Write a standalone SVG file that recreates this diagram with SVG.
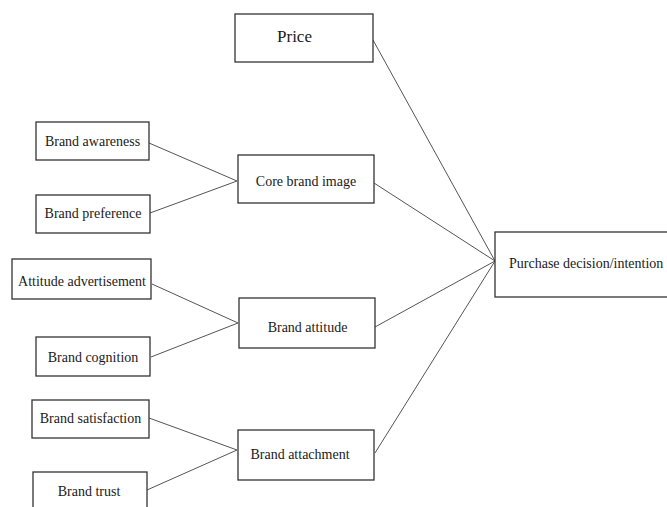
<svg xmlns="http://www.w3.org/2000/svg" width="667" height="507" viewBox="0 0 667 507">
<style>
.box{fill:#fff;stroke:#333;stroke-width:1.3}
.t{font-family:"Liberation Serif","Times New Roman",serif;font-size:14px;fill:#1a1a1a;text-anchor:middle}
.c{stroke:#555;stroke-width:1;fill:none}
</style>
<rect width="667" height="507" fill="#fff"/>
<g id="connectors">
<line class="c" x1="149" y1="143" x2="237" y2="181"/>
<line class="c" x1="150" y1="213" x2="237" y2="181"/>
<line class="c" x1="152" y1="284" x2="238" y2="323"/>
<line class="c" x1="151" y1="357" x2="238" y2="323"/>
<line class="c" x1="149" y1="418" x2="237" y2="450"/>
<line class="c" x1="147" y1="490" x2="237" y2="450"/>
<line class="c" x1="373" y1="40" x2="495" y2="261"/>
<line class="c" x1="374" y1="183" x2="495" y2="261"/>
<line class="c" x1="375" y1="327" x2="495" y2="261"/>
<line class="c" x1="375" y1="453" x2="495" y2="261"/>
</g>
<g id="price"><rect class="box" x="235" y="14" width="138" height="48"/><text class="t" x="294.5" y="42" style="font-size:17px">Price</text></g>
<g id="brand-awareness"><rect class="box" x="36" y="122" width="113" height="38"/><text class="t" x="92.5" y="146">Brand awareness</text></g>
<g id="brand-preference"><rect class="box" x="36" y="195" width="114" height="38"/><text class="t" x="93" y="218">Brand preference</text></g>
<g id="core-brand-image"><rect class="box" x="238" y="155" width="136" height="48"/><text class="t" x="306" y="186">Core brand image</text></g>
<g id="attitude-advertisement"><rect class="box" x="12" y="259" width="139" height="40"/><text class="t" x="82" y="286">Attitude advertisement</text></g>
<g id="brand-cognition"><rect class="box" x="36" y="337" width="114" height="39"/><text class="t" x="93" y="362">Brand cognition</text></g>
<g id="brand-attitude"><rect class="box" x="239" y="298" width="136" height="50"/><text class="t" x="307.5" y="332">Brand attitude</text></g>
<g id="brand-satisfaction"><rect class="box" x="32" y="400" width="117" height="38"/><text class="t" x="90.5" y="423">Brand satisfaction</text></g>
<g id="brand-attachment"><rect class="box" x="238" y="430" width="136" height="50"/><text class="t" x="300" y="459">Brand attachment</text></g>
<g id="brand-trust"><rect class="box" x="33" y="472" width="114" height="45"/><text class="t" x="89" y="496">Brand trust</text></g>
<g id="purchase"><rect class="box" x="495" y="232" width="180" height="65"/><text class="t" x="509" y="268" style="text-anchor:start">Purchase decision/intention</text></g>
</svg>
